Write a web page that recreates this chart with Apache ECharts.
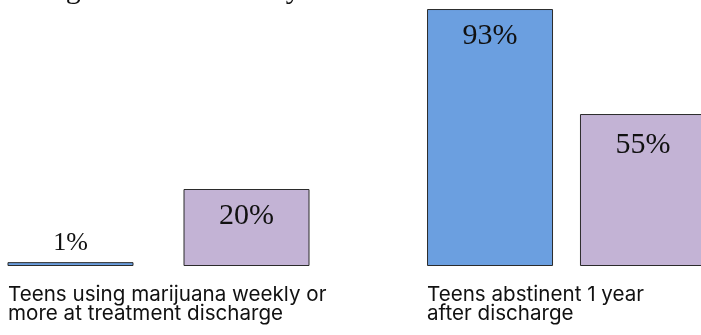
<!DOCTYPE html>
<html>
<head>
<meta charset="utf-8">
<style>
  html, body { margin: 0; padding: 0; background: #ffffff; }
  #chart { width: 701px; height: 335px; }
</style>
<script src="https://cdn.jsdelivr.net/npm/echarts@6/dist/echarts.min.js"></script>
</head>
<body>
<div id="chart"></div>
<script>
// Outcome groups (one per panel) and the two compared programmes
const groupLabels = [
  'Teens using marijuana weekly or\nmore at treatment discharge',
  'Teens abstinent 1 year\nafter discharge'
];
const blueValues = [1, 93];
const purpleValues = [20, 55];
const titleText = 'Young Adolescent Study';

const BLUE = '#6b9fe0';
const PURPLE = '#c3b3d5';
const EDGE = '#2b2b2b';
const serif = '"Liberation Serif", "DejaVu Serif", serif';
const sans = 'Inter, "Liberation Sans", Arial, sans-serif';

// Each panel has its own vertical scale (axis max + plot height)
const panels = [
  { left: 7, width: 303, height: 231, max: 60, gap: '39.7%', labelShift: -150.5 },
  { left: 427, width: 279, height: 262.5, max: 95, gap: '21.4%', labelShift: -139.5 }
];

const grids = panels.map(p => ({
  left: p.left, width: p.width, bottom: 69, height: p.height,
  containLabel: false, outerBoundsMode: 'none'
}));

const xAxes = panels.map((p, i) => ({
  type: 'category',
  gridIndex: i,
  data: [groupLabels[i]],
  axisLine: { show: false },
  axisTick: { show: false },
  axisLabel: {
    interval: 0,
    align: 'left',
    verticalAlign: 'top',
    margin: 19,
    padding: [0, 0, 0, p.labelShift],
    fontFamily: sans,
    fontSize: 20.6,
    lineHeight: 19,
    color: '#111111'
  }
}));

const yAxes = panels.map((p, i) => ({
  type: 'value', gridIndex: i, min: 0, max: p.max, show: false
}));

const series = [];
panels.forEach((p, i) => {
  const small = blueValues[i] < 5;
  series.push({
    type: 'bar',
    xAxisIndex: i,
    yAxisIndex: i,
    barWidth: 126,
    barGap: p.gap,
    data: [blueValues[i]],
    itemStyle: { color: BLUE, borderColor: EDGE, borderWidth: 1 },
    label: {
      show: true,
      position: small ? 'top' : 'insideTop',
      distance: small ? 6 : 12,
      formatter: '{c}%',
      fontFamily: serif,
      fontSize: small ? 26 : 30,
      color: '#111111'
    }
  });
  series.push({
    type: 'bar',
    xAxisIndex: i,
    yAxisIndex: i,
    barWidth: 126,
    barGap: p.gap,
    data: [purpleValues[i]],
    itemStyle: { color: PURPLE, borderColor: EDGE, borderWidth: 1 },
    label: {
      show: true,
      position: 'insideTop',
      distance: i === 0 ? 12 : 16,
      formatter: '{c}%',
      fontFamily: serif,
      fontSize: 30,
      color: '#111111'
    }
  });
});

const chart = echarts.init(document.getElementById('chart'), null, { renderer: 'canvas' });
chart.setOption({
  animation: false,
  backgroundColor: '#ffffff',
  grid: grids,
  xAxis: xAxes,
  yAxis: yAxes,
  series: series,
  graphic: [{
    type: 'text',
    left: 2,
    top: -25,
    style: { text: titleText, font: '30px ' + serif, fill: '#111111' }
  }]
});
</script>
</body>
</html>
